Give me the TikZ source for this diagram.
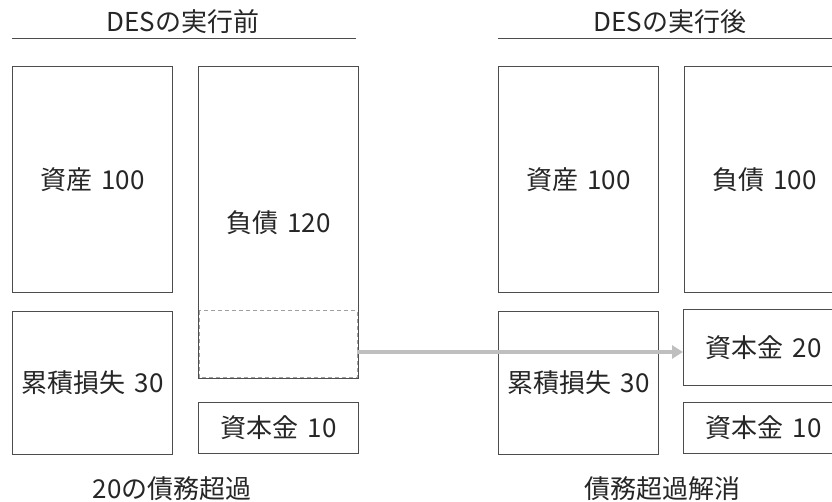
\documentclass[tikz,border=0pt]{standalone}
\usepackage{fontspec}
\newfontfamily\jp{Noto Sans CJK JP}[WordSpace={1.6,0,0}]
\usepackage{tikz}
\usetikzlibrary{positioning,arrows.meta}
\definecolor{boxgray}{HTML}{4D4D4D}
\definecolor{textgray}{HTML}{262626}
\definecolor{dashgray}{HTML}{A0A0A0}
\definecolor{arrowgray}{HTML}{BFBFBF}
\tikzset{
  acct/.style={rectangle, draw=boxgray, line width=0.9pt, minimum width=160pt, inner sep=0pt,
               font=\jp\fontsize{26}{30}\selectfont, text=textgray},
  label/.style={font=\jp\fontsize{26}{30}\selectfont, text=textgray, inner sep=0pt},
  rule/.style={draw=boxgray, line width=1pt},
  hidden/.style={draw=dashgray, line width=0.9pt, dash pattern=on 4pt off 3pt},
  move/.style={-{Triangle[length=11pt, width=13pt]}, draw=arrowgray, line width=3.5pt},
}
\begin{document}
\begin{tikzpicture}[x=1pt, y=-1pt]
  \useasboundingbox (0,0) rectangle (832,501);
  \clip (0,0) rectangle (832,501);

  % before DES
  \node[label] (headL) at (183,22) {DESの実行前};
  \draw[rule] (12,38) -- (356,38);
  \node[acct, minimum height=226pt, anchor=north west] (assetL) at (12,66) {資産 100};
  \node[acct, minimum height=312pt, right=25pt of assetL.north east, anchor=north west] (debtL) {負債 120};
  \node[acct, minimum height=143pt, below=18pt of assetL] (lossL) {累積損失 30};
  \node[acct, minimum height=51pt, below=23pt of debtL] (capL) {資本金 10};
  \draw[hidden] ([xshift=1.5pt, yshift=68pt]debtL.south west) rectangle ([xshift=-1.5pt, yshift=1pt]debtL.south east);
  \node[label] (noteL) at (172,489) {20の債務超過};

  % after DES
  \node[label] (headR) at (670,22) {DESの実行後};
  \draw[rule] (498,38) -- (842,38);
  \node[acct, minimum height=226pt, anchor=north west] (assetR) at (498,66) {資産 100};
  \node[acct, minimum height=226pt, right=25pt of assetR] (debtR) {負債 100};
  \node[acct, minimum height=143pt, below=18pt of assetR] (lossR) {累積損失 30};
  \node[acct, minimum height=76pt, anchor=north west] (capNewR) at (683,309) {資本金 20};
  \node[acct, minimum height=51pt, below=16pt of capNewR] (capR) {資本金 10};
  \node[label] (noteR) at (662,489) {債務超過解消};

  \coordinate (dashE) at (357,352);
  \draw[move] (dashE) -- (capNewR.west |- dashE);
\end{tikzpicture}
\end{document}
